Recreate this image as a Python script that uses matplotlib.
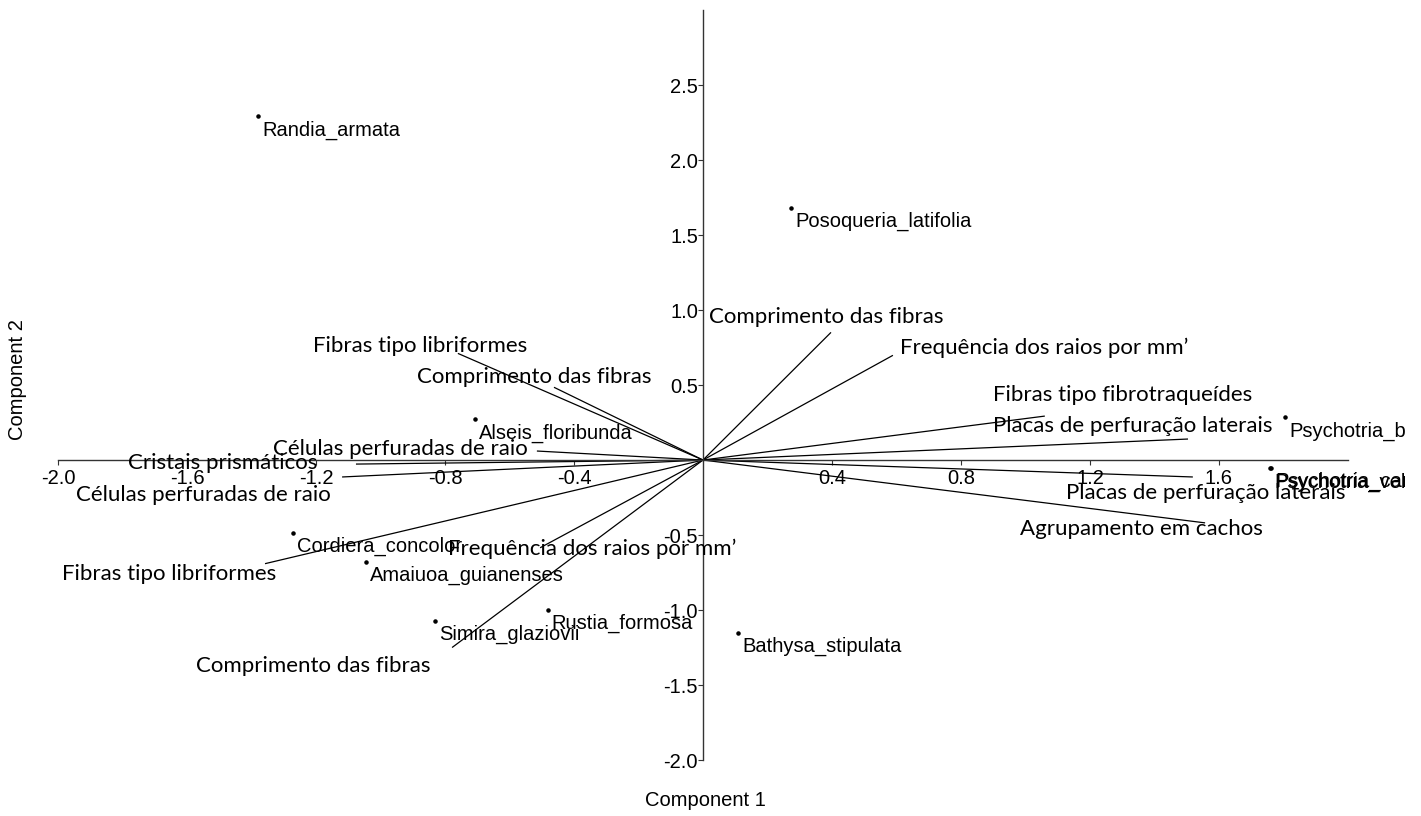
import numpy as np
import matplotlib
matplotlib.use("Agg")
import matplotlib.pyplot as plt
from matplotlib.patches import Rectangle

# --- Species scores (Component 1, Component 2) ---
species = ["Randia_armata", "Posoqueria_latifolia", "Alseis_floribunda",
           "Psychotria_brasiliensis", "Psychotria_velloziana", "Psychotria_carthagenensis",
           "Cordiera_concolor", "Amaiuoa_guianenses", "Simira_glaziovii",
           "Rustia_formosa", "Bathysa_stipulata"]
species_x = [-1.380, 0.273, -0.707, 1.805, 1.758, 1.761, -1.271, -1.045, -0.831, -0.481, 0.109]
species_y = [2.294, 1.682, 0.273, 0.286, -0.053, -0.050, -0.485, -0.678, -1.070, -0.997, -1.150]

# --- Variable loadings (biplot vectors) ---
variables = ["Comprimento das fibras", "Frequência dos raios por mm’",
             "Fibras tipo fibrotraqueídes", "Placas de perfuração laterais",
             "Placas de perfuração laterais", "Agrupamento em cachos",
             "Fibras tipo libriformes", "Comprimento das fibras",
             "Células perfuradas de raio", "Cristais prismáticos",
             "Células perfuradas de raio", "Fibras tipo libriformes",
             "Frequência dos raios por mm’", "Comprimento das fibras"]
load_x = [0.397, 0.589, 1.060, 1.504, 1.519, 1.557, -0.760, -0.462, -0.515, -1.076, -1.119, -1.358, -0.505, -0.778]
load_y = [0.851, 0.698, 0.293, 0.140, -0.113, -0.419, 0.711, 0.485, 0.060, -0.027, -0.113, -0.691, -0.585, -1.250]

# where each vector label sits (left edge, middle)
label_pos = [(0.019, 0.951), (0.611, 0.745), (0.899, 0.432), (0.899, 0.226),
             (1.126, -0.219), (0.983, -0.459), (-1.209, 0.758), (-0.887, 0.552),
             (-1.333, 0.073), (-1.783, -0.020), (-1.944, -0.233), (-1.988, -0.758),
             (-0.791, -0.592), (-1.572, -1.376)]

xticks = [-2.0, -1.6, -1.2, -0.8, -0.4, 0.4, 0.8, 1.2, 1.6]
yticks = [-2.0, -1.5, -1.0, -0.5, 0.5, 1.0, 1.5, 2.0, 2.5]

plt.rcParams['font.family'] = ['Liberation Sans', 'DejaVu Sans']

fig = plt.figure(figsize=(14.21, 8.16), dpi=100)
ax = fig.add_axes([0.0408, 0.0686, 0.9078, 0.9191])
ax.set_xlim(-2.0, 2.0)
ax.set_ylim(-2.0, 3.0)

# axes crossing at the origin
for side in ['top', 'right']:
    ax.spines[side].set_visible(False)
ax.spines['left'].set_position(('data', 0))
ax.spines['bottom'].set_position(('data', 0))
for side in ['left', 'bottom']:
    ax.spines[side].set_color('#333333')
    ax.spines[side].set_linewidth(1.0)

ax.set_xticks(xticks)
ax.set_xticklabels([f"{t:.1f}" for t in xticks])
ax.set_yticks(yticks)
ax.set_yticklabels([f"{t:.1f}" for t in yticks])
ax.tick_params(axis='x', direction='out', length=3.6, width=0.8, pad=3, labelsize=14.5, colors='#333333', labelcolor='black')
ax.tick_params(axis='y', direction='out', length=3.6, width=0.8, pad=0, labelsize=14.5, colors='#333333', labelcolor='black')

# loading vectors
for vx, vy in zip(load_x, load_y):
    ax.plot([0, vx], [0, vy], color='black', lw=0.9, solid_capstyle='butt')
for name, (lx, ly) in zip(variables, label_pos):
    ax.text(lx, ly, name, ha='left', va='center', fontsize=16,
            family=['Lato', 'DejaVu Sans'], color='black', clip_on=False)

# species points
ax.scatter(species_x, species_y, s=5, color='black', zorder=3, clip_on=False)
for name, sx, sy in zip(species, species_x, species_y):
    ax.annotate(name, (sx, sy), xytext=(4, -14), textcoords='offset pixels',
                ha='left', va='center', fontsize=14.5, color='black')

fig.text(705 / 1421, 1 - 800 / 816, "Component 1", ha='center', va='center', fontsize=14.5)
fig.text(18 / 1421, 1 - 380 / 816, "Component 2", ha='center', va='center', fontsize=14.5, rotation=90)

# canvas ends a little before the figure edge: long labels get cut there
fig.patches.append(Rectangle((1405 / 1421, 0), 1, 1, transform=fig.transFigure,
                             facecolor='white', edgecolor='none', zorder=100))

fig.savefig("out.png", dpi=100)
